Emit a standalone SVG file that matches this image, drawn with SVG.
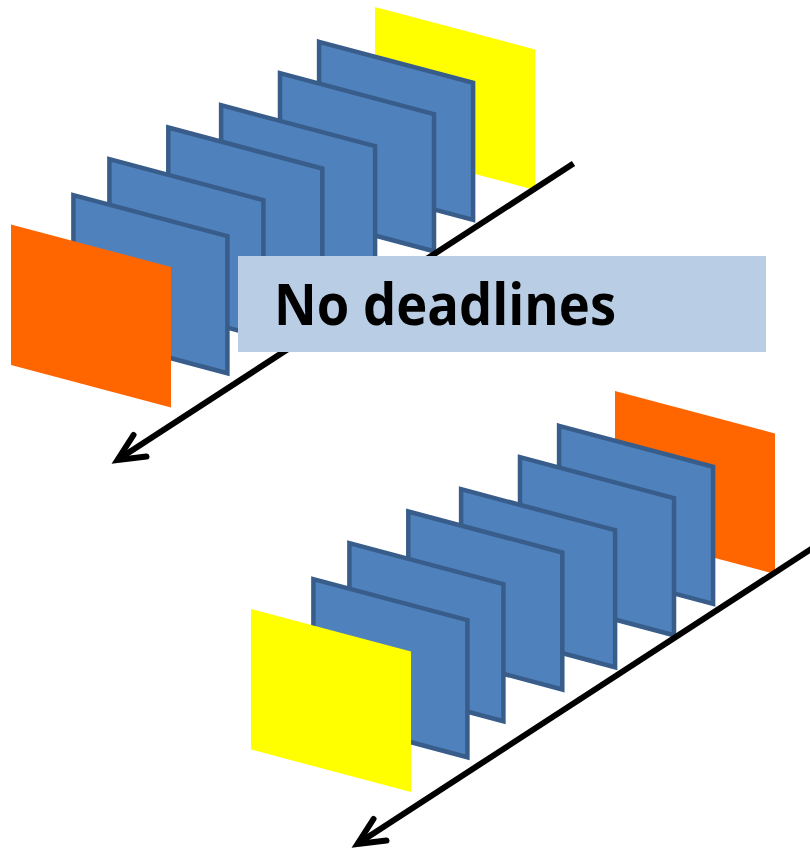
<svg xmlns="http://www.w3.org/2000/svg" xmlns:xlink="http://www.w3.org/1999/xlink" width="810" height="848" viewBox="0 0 810 848">
  <style>
    .panel { fill: #4F81BD; stroke: #385D8A; stroke-width: 4.5; stroke-linejoin: miter; }
    .yellow { fill: #FFFF00; }
    .orange { fill: #FF6600; }
    .axis { fill: none; stroke: #000000; stroke-width: 6; stroke-linecap: butt; }
    .head { fill: none; stroke: #000000; stroke-width: 6; stroke-linecap: round; stroke-linejoin: miter; stroke-miterlimit: 10; }
    .label-bg { fill: #B9CDE5; }
    .label { font-family: "Open Sans", "Liberation Sans", sans-serif; font-weight: bold; font-size: 58px; fill: #000000; }
  </style>
  <defs>
    <path id="panelShape" d="M0,0 L154,41 L154,178 L0,137 Z"/>
    <path id="cardShape" d="M0,0 L160,42.5 L160,183 L0,140.5 Z"/>
  </defs>
  <rect x="0" y="0" width="810" height="848" fill="#FFFFFF"/>

  <!-- Top sequence -->
  <g id="top-sequence">
    <g id="top-yellow"><use xlink:href="#cardShape" href="#cardShape" x="375" y="7" class="yellow"/></g>
    <g id="top-panel-6"><use xlink:href="#panelShape" href="#panelShape" x="319.1" y="41.8" class="panel"/></g>
    <g id="top-panel-5"><use xlink:href="#panelShape" href="#panelShape" x="280" y="73.2" class="panel"/></g>
    <g id="top-panel-4"><use xlink:href="#panelShape" href="#panelShape" x="221.1" y="105.2" class="panel"/></g>
    <g id="top-panel-3"><use xlink:href="#panelShape" href="#panelShape" x="168.3" y="127.5" class="panel"/></g>
    <g id="top-panel-2"><use xlink:href="#panelShape" href="#panelShape" x="109.4" y="159.2" class="panel"/></g>
    <g id="top-panel-1"><use xlink:href="#panelShape" href="#panelShape" x="73.4" y="195.2" class="panel"/></g>
    <g id="top-orange"><use xlink:href="#cardShape" href="#cardShape" x="11" y="224.5" class="orange"/></g>
  </g>

  <!-- Bottom sequence -->
  <g id="bottom-sequence">
    <g id="bottom-orange"><use xlink:href="#cardShape" href="#cardShape" x="615" y="391" class="orange"/></g>
    <g id="bottom-panel-6"><use xlink:href="#panelShape" href="#panelShape" x="559.1" y="425.8" class="panel"/></g>
    <g id="bottom-panel-5"><use xlink:href="#panelShape" href="#panelShape" x="520" y="457.2" class="panel"/></g>
    <g id="bottom-panel-4"><use xlink:href="#panelShape" href="#panelShape" x="461.1" y="489.2" class="panel"/></g>
    <g id="bottom-panel-3"><use xlink:href="#panelShape" href="#panelShape" x="408.3" y="511.5" class="panel"/></g>
    <g id="bottom-panel-2"><use xlink:href="#panelShape" href="#panelShape" x="349.4" y="543.2" class="panel"/></g>
    <g id="bottom-panel-1"><use xlink:href="#panelShape" href="#panelShape" x="313.4" y="579.2" class="panel"/></g>
    <g id="bottom-yellow"><use xlink:href="#cardShape" href="#cardShape" x="251" y="609" class="yellow"/></g>
  </g>

  <!-- Connectors (time axes) -->
  <g id="connectors">
    <g id="top-axis">
      <line class="axis" x1="573.5" y1="163.5" x2="118" y2="459.5"/>
      <path class="head" d="M133.5,435 L117.5,460 L146.5,456.5"/>
    </g>
    <g id="bottom-axis">
      <line class="axis" x1="813.5" y1="547.5" x2="358" y2="843.5"/>
      <path class="head" d="M373.5,819 L357.5,844 L386.5,840.5"/>
    </g>
  </g>

  <!-- Label -->
  <g id="label-no-deadlines">
    <rect class="label-bg" x="238" y="256" width="528" height="96"/>
    <text class="label" x="274" y="325" textLength="342" lengthAdjust="spacingAndGlyphs">No deadlines</text>
  </g>
</svg>
